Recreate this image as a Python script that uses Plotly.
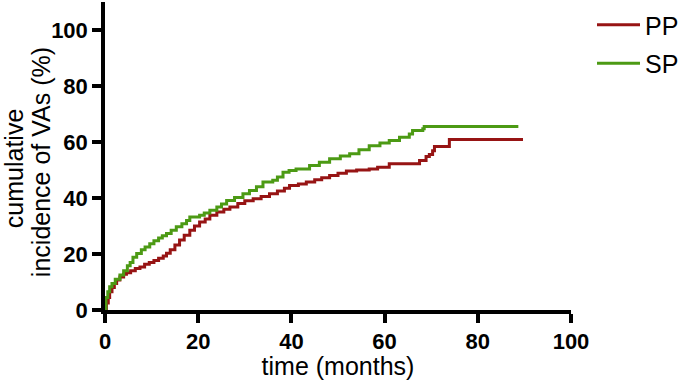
import plotly.graph_objects as go

pp_t = [0, 0.3, 0.7, 1.0, 1.5, 2.0, 2.5, 3.2, 4.0, 4.6, 5.5, 6.5, 7.5, 8.5, 9.5, 10.5, 11.5, 12.5,
        13.2, 14.0, 15.0, 16.0, 17.0, 18.2, 19.2, 20.3, 21.5, 22.5, 24.0, 25.5, 26.8, 28.5, 30.0,
        31.8, 33.5, 35.3, 37.0, 38.5, 39.6, 41.5, 43.2, 45.0, 46.5, 48.2, 50.0, 51.8, 54.0, 56.7,
        58.5, 61.0, 67.5, 68.9, 69.6, 70.3, 70.7, 73.9, 89.7]
pp_y = [0, 2.5, 4.5, 6.5, 8.0, 9.5, 10.7, 11.8, 12.8, 13.3, 14.0, 14.8, 15.4, 16.3, 17.0, 17.7, 18.5, 19.3,
        20.3, 21.5, 23.2, 25.0, 26.7, 28.5, 30.0, 31.4, 32.5, 33.8, 35.0, 36.0, 36.8, 38.0, 39.0,
        39.7, 40.5, 41.5, 42.5, 43.5, 44.5, 45.0, 45.7, 46.5, 47.2, 48.0, 48.8, 49.6, 50.0, 50.4,
        51.0, 52.2, 53.4, 54.8, 55.5, 56.9, 58.4, 60.9, 60.9]

sp_t = [0, 0.2, 0.6, 1.0, 1.5, 2.2, 3.2, 4.0, 4.8, 5.4, 6.0, 6.8, 7.8, 8.6, 9.6, 10.5, 11.5, 12.3,
        13.2, 14.2, 15.3, 16.5, 17.5, 18.2, 20.3, 21.3, 22.5, 24.0, 25.0, 26.1, 27.8, 29.6, 31.0,
        32.5, 33.9, 36.0, 37.0, 38.2, 39.5, 41.0, 43.9, 46.0, 48.2, 50.5, 52.5, 54.5, 56.7, 59.0,
        61.0, 63.2, 65.3, 66.0, 68.2, 68.5, 88.7]
sp_y = [0, 4.5, 6.5, 8.3, 9.5, 11.0, 12.5, 14.0, 15.8, 17.0, 18.8, 20.2, 21.5, 22.5, 23.7, 24.7, 25.7, 26.5,
        27.3, 28.5, 29.7, 30.8, 32.0, 33.2, 33.8, 34.6, 35.6, 36.8, 37.9, 39.1, 40.2, 41.5, 42.7,
        44.0, 45.7, 46.3, 47.5, 49.2, 49.8, 50.4, 51.6, 52.8, 54.0, 55.0, 55.8, 57.2, 58.7, 59.6,
        60.5, 61.7, 62.9, 64.1, 64.7, 65.5, 65.5]

x_ticks = [0, 20, 40, 60, 80, 100]
y_ticks = [0, 20, 40, 60, 80, 100]
y_title_lines = ["cumulative", "incidence of VAs (%)"]

FONT = "Liberation Sans, Arial, Helvetica, sans-serif"

fig = go.Figure()
fig.add_trace(go.Scatter(x=pp_t, y=pp_y, mode="lines", name="PP", legendgroup="pp",
                         line=dict(color="#971414", width=3, shape="hv")))
fig.add_trace(go.Scatter(x=sp_t, y=sp_y, mode="lines", name="SP", legendgroup="sp",
                         line=dict(color="#4c9a14", width=3, shape="hv")))

fig.update_layout(
    width=685, height=380,
    margin=dict(l=105, r=113, t=2, b=70),
    paper_bgcolor="white", plot_bgcolor="white",
    font=dict(family=FONT, color="black", size=25),
    showlegend=True,
    legend=dict(x=(592 - 105) / 467, y=1.0, xanchor="left", yanchor="top",
                font=dict(size=25, family=FONT), tracegroupgap=3, itemwidth=43,
                bgcolor="rgba(0,0,0,0)"),
    xaxis=dict(range=[0, 100], tickvals=x_ticks, ticktext=[str(v) for v in x_ticks],
               showline=True, linecolor="black", linewidth=3.5, mirror=False,
               ticks="outside", ticklen=9, tickwidth=3.5, tickcolor="black",
               showgrid=False, zeroline=False,
               tickfont=dict(size=22, family=FONT, weight="bold"),
               title=dict(text="time (months)", font=dict(size=25, family=FONT), standoff=0)),
    yaxis=dict(range=[0, 110], tickvals=y_ticks, ticktext=[str(v) for v in y_ticks],
               showline=True, linecolor="black", linewidth=3.5, mirror=False,
               ticks="outside", ticklen=9, tickwidth=3.5, tickcolor="black",
               showgrid=False, zeroline=False,
               tickfont=dict(size=22, family=FONT, weight="bold")),
)

for txt, px, py in zip(y_title_lines, [14, 41], [168, 162]):
    fig.add_annotation(text=txt, xref="paper", yref="paper",
                       x=(px - 105) / 467, y=(310 - py) / 308,
                       xanchor="center", yanchor="middle", textangle=-90,
                       showarrow=False, font=dict(size=25, family=FONT, color="black"))

fig.write_html("out.html", config={"displayModeBar": False},
               post_script="document.body.style.margin='0px';")
